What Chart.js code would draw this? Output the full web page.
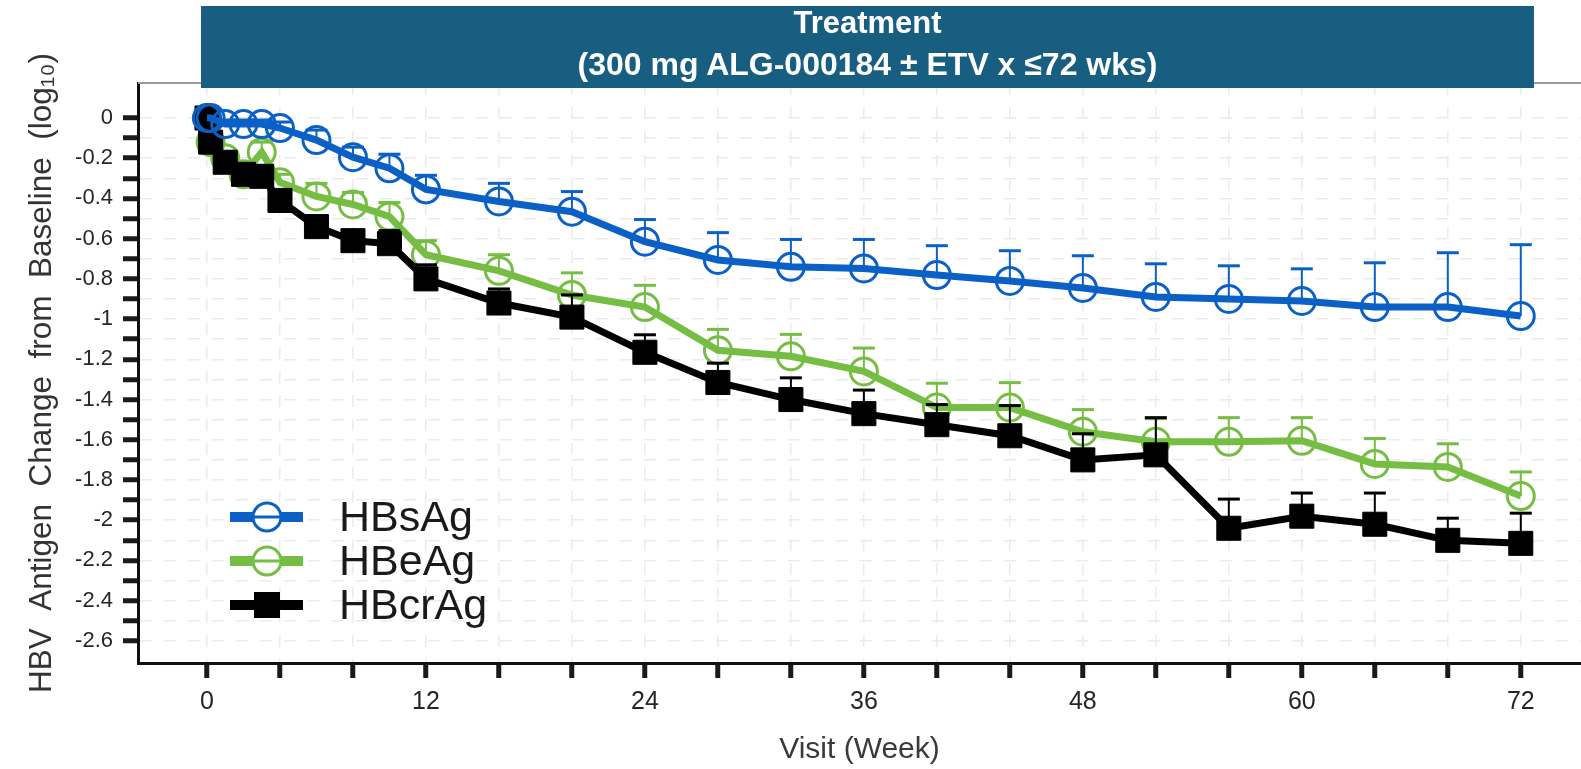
<!DOCTYPE html>
<html>
<head>
<meta charset="utf-8">
<script src="https://cdn.jsdelivr.net/npm/chart.js@4.4.1/dist/chart.umd.min.js"></script>
<style>
  html, body { margin: 0; padding: 0; background: #fff; }
  #wrap { position: relative; width: 1581px; height: 769px; }
  #title-box {
    position: absolute; left: 201px; top: 6px; width: 1333px; height: 82px;
    background: #175e80; color: #fff; text-align: center;
    font: bold 31px "Liberation Sans", Arial, sans-serif;
  }
  #title-box div { position: absolute; left: 0; right: 0; line-height: 32px; }
</style>
</head>
<body>
<div id="wrap">
  <canvas id="chart" width="1581" height="769"></canvas>
  <div id="title-box">
    <div style="top: 1px;">Treatment</div>
    <div style="top: 42px; font-size: 32px;">(300 mg ALG-000184 ± ETV x ≤72 wks)</div>
  </div>
</div>

<script>
// visit weeks (first two are baseline and the early on-treatment visit)
const weeks = [0, 0.2, 1, 2, 3, 4, 6, 8, 10, 12, 16, 20, 24, 28, 32, 36, 40, 44, 48, 52, 56, 60, 64, 68, 72];

// mean change from baseline (log10) and upper error bar length
const hbsAg    = [0, 0, -0.03, -0.03, -0.03, -0.05, -0.11, -0.195, -0.25, -0.355, -0.415, -0.466, -0.615, -0.706, -0.74, -0.748, -0.781, -0.81, -0.845, -0.89, -0.90, -0.91, -0.94, -0.94, -0.985];
const hbsAgErr = [0, 0, 0.02, 0.02, 0.02, 0.03, 0.05, 0.05, 0.07, 0.07, 0.09, 0.10, 0.11, 0.136, 0.136, 0.144, 0.146, 0.15, 0.16, 0.165, 0.165, 0.16, 0.22, 0.27, 0.355];

const hbeAg    = [0, -0.12, -0.2, -0.28, -0.17, -0.32, -0.39, -0.43, -0.49, -0.68, -0.76, -0.88, -0.94, -1.155, -1.185, -1.26, -1.44, -1.44, -1.56, -1.61, -1.61, -1.605, -1.72, -1.735, -1.88];
const hbeAgErr = [0, 0.03, 0.03, 0.03, 0.05, 0.04, 0.065, 0.06, 0.07, 0.07, 0.08, 0.11, 0.108, 0.104, 0.109, 0.116, 0.121, 0.124, 0.11, 0.115, 0.12, 0.115, 0.126, 0.115, 0.12];

const hbcrAg    = [0, -0.12, -0.22, -0.28, -0.29, -0.41, -0.54, -0.61, -0.625, -0.80, -0.92, -0.99, -1.165, -1.315, -1.40, -1.47, -1.525, -1.58, -1.70, -1.675, -2.04, -1.98, -2.02, -2.10, -2.115];
const hbcrAgErr = [0, 0.03, 0.03, 0.04, 0.05, 0.03, 0.03, 0.03, 0.065, 0.07, 0.07, 0.11, 0.087, 0.096, 0.108, 0.117, 0.1, 0.15, 0.13, 0.185, 0.145, 0.115, 0.155, 0.11, 0.15];

// axis ticks
const xTickWeeks  = [0, 4, 8, 12, 16, 20, 24, 28, 32, 36, 40, 44, 48, 52, 56, 60, 64, 68, 72];
const xTickLabels = ['0', '', '', '12', '', '', '24', '', '', '36', '', '', '48', '', '', '60', '', '', '72'];
const yTickValues = [0, -0.1, -0.2, -0.3, -0.4, -0.5, -0.6, -0.7, -0.8, -0.9, -1, -1.1, -1.2, -1.3, -1.4, -1.5, -1.6, -1.7, -1.8, -1.9, -2, -2.1, -2.2, -2.3, -2.4, -2.5, -2.6];
const yTickLabels = ['0', '', '-0.2', '', '-0.4', '', '-0.6', '', '-0.8', '', '-1', '', '-1.2', '', '-1.4', '', '-1.6', '', '-1.8', '', '-2', '', '-2.2', '', '-2.4', '', '-2.6'];

const BLUE = '#0b60c6';
const GREEN = '#76bd43';
const BLACK = '#000000';

Chart.defaults.font.family = '"Liberation Sans", Arial, sans-serif';

function toPoints(vals) {
    return weeks.map((w, i) => ({ x: w, y: vals[i] }));
}

// upward error bars with caps, drawn right after each dataset
const errorBars = {
    id: 'errorBars',
    afterDatasetDraw(chart, args) {
        const ds = chart.data.datasets[args.index];
        if (!ds.errUp) return;
        const ctx = chart.ctx;
        const yScale = chart.scales.y;
        ctx.save();
        ctx.strokeStyle = ds.borderColor;
        args.meta.data.forEach((pt, i) => {
            const e = ds.errUp[i];
            if (!e) return;
            const top = yScale.getPixelForValue(ds.data[i].y + e);
            ctx.lineWidth = 2;
            ctx.beginPath();
            ctx.moveTo(pt.x, pt.y);
            ctx.lineTo(pt.x, top);
            ctx.stroke();
            ctx.lineWidth = 3;
            ctx.beginPath();
            ctx.moveTo(pt.x - 11, top);
            ctx.lineTo(pt.x + 11, top);
            ctx.stroke();
        });
        ctx.restore();
    }
};

// frame line along the top and the legend in the lower left
const extras = {
    id: 'extras',
    beforeDatasetsDraw(chart) {
        const { ctx, chartArea } = chart;
        ctx.save();
        ctx.strokeStyle = '#9a9a9a';
        ctx.lineWidth = 2;
        ctx.beginPath();
        ctx.moveTo(chartArea.left, chartArea.top);
        ctx.lineTo(chartArea.right, chartArea.top);
        ctx.stroke();
        ctx.restore();
    },
    afterDraw(chart) {
        const ctx = chart.ctx;
        const order = [0, 1, 2];
        ctx.save();
        order.forEach((di, row) => {
            const ds = chart.data.datasets[di];
            const y = 517 + row * 44;
            ctx.strokeStyle = ds.borderColor;
            ctx.lineWidth = 10;
            ctx.beginPath();
            ctx.moveTo(230, y);
            ctx.lineTo(303, y);
            ctx.stroke();
            if (ds.pointStyle === 'rect') {
                ctx.fillStyle = ds.borderColor;
                ctx.fillRect(267 - 13, y - 13, 26, 26);
            } else {
                ctx.lineWidth = 3;
                ctx.fillStyle = '#fff';
                ctx.beginPath();
                ctx.arc(267, y, 14, 0, Math.PI * 2);
                ctx.fill();
                ctx.stroke();
                ctx.beginPath();
                ctx.moveTo(253, y);
                ctx.lineTo(281, y);
                ctx.stroke();
            }
            ctx.fillStyle = '#1a1a1a';
            ctx.font = '43px "Liberation Sans", Arial, sans-serif';
            ctx.textBaseline = 'middle';
            ctx.fillText(ds.label, 339, y + 2);
        });
        ctx.restore();
    }
};

const gridOpts = {
    color: '#ebebeb',
    lineWidth: 1.5,
    tickColor: '#1a1a1a',
    tickWidth: 5,
    tickLength: 15
};

new Chart(document.getElementById('chart'), {
    type: 'line',
    data: {
        datasets: [
            {
                label: 'HBsAg', data: toPoints(hbsAg), errUp: hbsAgErr,
                borderColor: BLUE, borderWidth: 7, order: 0,
                pointStyle: 'circle', pointRadius: 13.5, pointBorderWidth: 3,
                pointBackgroundColor: 'rgba(255,255,255,0)', pointBorderColor: BLUE
            },
            {
                label: 'HBeAg', data: toPoints(hbeAg), errUp: hbeAgErr,
                borderColor: GREEN, borderWidth: 7, order: 2,
                pointStyle: 'circle', pointRadius: 13.5, pointBorderWidth: 3,
                pointBackgroundColor: 'rgba(255,255,255,0)', pointBorderColor: GREEN
            },
            {
                label: 'HBcrAg', data: toPoints(hbcrAg), errUp: hbcrAgErr,
                borderColor: BLACK, borderWidth: 7, order: 1,
                pointStyle: 'rect', pointRadius: 17, pointBorderWidth: 1,
                pointBackgroundColor: BLACK, pointBorderColor: BLACK
            }
        ]
    },
    options: {
        responsive: false,
        animation: false,
        events: [],
        layout: { autoPadding: false, padding: { top: 83, left: 0, right: 0, bottom: 0 } },
        plugins: {
            legend: { display: false },
            tooltip: { enabled: false }
        },
        elements: { line: { tension: 0 } },
        scales: {
            x: {
                type: 'linear',
                min: -3.78,
                max: 75.3,
                afterBuildTicks: s => { s.ticks = xTickWeeks.map(v => ({ value: v })); },
                afterFit: s => { s.height = 106; },
                ticks: {
                    autoSkip: false, maxRotation: 0, padding: 9,
                    color: '#262626', font: { size: 25 },
                    callback: (v, i) => xTickLabels[i]
                },
                grid: gridOpts,
                border: { color: '#111', width: 3, dash: [12, 12] },
                title: {
                    display: true, text: 'Visit (Week)', color: '#3a3a3a',
                    font: { size: 30 }, padding: { top: 0, bottom: 1 }
                }
            },
            y: {
                min: -2.71,
                max: 0.174,
                afterBuildTicks: s => { s.ticks = yTickValues.map(v => ({ value: v })); },
                afterFit: s => { s.width = 138; },
                ticks: {
                    autoSkip: false, padding: 10,
                    color: '#262626', font: { size: 22 },
                    callback: (v, i) => yTickLabels[i]
                },
                grid: gridOpts,
                border: { color: '#111', width: 3, dash: [12, 12] },
                title: {
                    display: true, text: 'HBV  Antigen  Change  from  Baseline  (log\u2081\u2080)',
                    color: '#333', font: { size: 31.5 }, padding: { top: 23, bottom: 0 }
                }
            }
        }
    },
    plugins: [errorBars, extras]
});
</script>
</body>
</html>
